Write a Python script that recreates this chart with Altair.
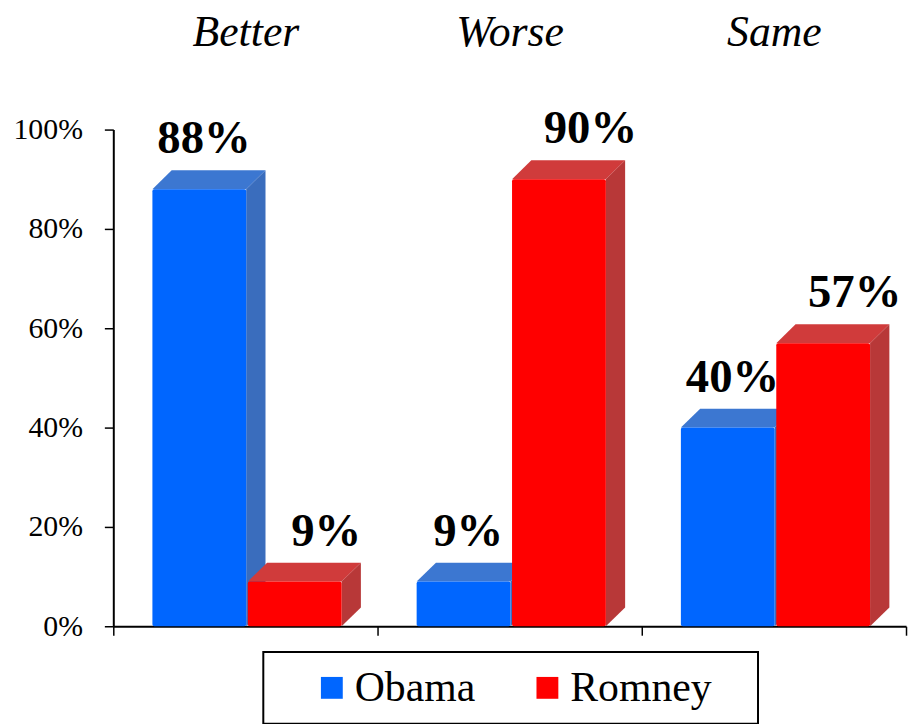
import altair as alt
import pandas as pd

# ---- data ----
categories = ["Better", "Worse", "Same"]
candidates = ["Obama", "Romney"]
obama = [88, 9, 40]
romney = [9, 90, 57]
y_ticks = [0, 20, 40, 60, 80, 100]

# ---- layout constants (in data units of the x / y scales) ----
BAR_START = 0.148   # first bar's left edge inside a category slot
BAR_PITCH = 0.361   # distance between bar left edges in a slot
BAR_W = 0.355       # front face width
DX = 0.073          # 3D depth along x
DY = 3.8            # 3D depth along y (percentage points)

front_colors = {"Obama": "#0066ff", "Romney": "#ff0000"}
top_colors = {"Obama": "#3c77d1", "Romney": "#d03b3b"}
side_colors = {"Obama": "#3a6dbd", "Romney": "#b83838"}

fronts, faces = [], []
for ci, cat in enumerate(categories):
    for k, (cand, vals) in enumerate(zip(candidates, [obama, romney])):
        v = vals[ci]
        xl = ci + BAR_START + k * BAR_PITCH
        xr = xl + BAR_W
        fronts.append(dict(cat=cat, cand=cand, v=v, y0=0, x0=xl, x1=xr,
                           xc=(xl + xr + DX) / 2, ytop=v + DY, lab=f"{v}%"))
        key = f"{cat}-{cand}-top"
        for x, y, y2 in [(xl, v, v), (xl + DX, v, v + DY), (xr, v, v + DY), (xr + DX, v + DY, v + DY)]:
            faces.append(dict(key=key, cand=cand, x=x, y=y, y2=y2, col=top_colors[cand]))
        key = f"{cat}-{cand}-side"
        for x, y, y2 in [(xr, 0, v), (xr + DX, DY, v + DY)]:
            faces.append(dict(key=key, cand=cand, x=x, y=y, y2=y2, col=side_colors[cand]))

fronts_df = pd.DataFrame(fronts)
faces_df = pd.DataFrame(faces)
titles_df = pd.DataFrame({"cat": categories, "xm": [i + 0.5 for i in range(len(categories))]})

FONT = "'Liberation Serif', 'Times New Roman', serif"

xscale = alt.Scale(domain=[0, 3], nice=False, zero=False)
yscale = alt.Scale(domain=[0, 100], nice=False, zero=True)
xaxis = alt.Axis(values=[0, 1, 2, 3], labels=False, title=None, grid=False,
                 tickSize=9, tickWidth=1.5, tickColor="black",
                 domainColor="black", domainWidth=2)
yaxis = alt.Axis(values=y_ticks, labelExpr="datum.value + '%'", title=None, grid=False,
                 tickSize=9, tickWidth=1.5, tickColor="black",
                 domainColor="black", domainWidth=2,
                 labelFont=FONT, labelFontSize=30, labelColor="black", labelPadding=22)
cat_expr = "[" + ",".join(f"'{c}'" for c in categories) + "][floor(datum.value)]"
top_axis = alt.Axis(orient="top", values=list(titles_df["xm"]), labelExpr=cat_expr,
                    title=None, grid=False, domain=False, ticks=False, tickSize=0,
                    labelPadding=85, labelBaseline="alphabetic", labelAlign="center",
                    labelFont=FONT, labelFontSize=44, labelFontStyle="italic",
                    labelColor="black", labelOverlap=False)


def X(field, axis=None):
    return alt.X(field, type="quantitative", scale=xscale, axis=axis)


def Y(field):
    return alt.Y(field, type="quantitative", scale=yscale, axis=yaxis, stack=None)


def face_layer(cand):
    return alt.Chart(faces_df).transform_filter(alt.datum.cand == cand).mark_area(
        orient="vertical", interpolate="linear"
    ).encode(
        x=X("x"), y=Y("y"), y2="y2",
        detail="key:N",
        color=alt.Color("col:N", scale=None),
    )


legend = alt.Legend(
    title=".", titleOrient="right", titleOpacity=0, titleFontSize=8, titlePadding=29,
    orient="none", legendX=151, legendY=526, direction="horizontal",
    padding=15, strokeColor="black", symbolType="square", symbolSize=484,
    symbolOffset=33, labelOffset=2, labelFont=FONT, labelFontSize=42,
    labelColor="black", labelLimit=400, columnPadding=18, symbolStrokeWidth=0,
)

front_layer = alt.Chart(fronts_df).mark_bar(cornerRadius=2).encode(
    x=X("x0", xaxis), x2="x1", y=Y("v"), y2="y0",
    color=alt.Color("cand:N", scale=alt.Scale(domain=candidates,
                                              range=[front_colors[c] for c in candidates]),
                    legend=legend),
)


def label_layer(cand, dx):
    return alt.Chart(fronts_df).transform_filter(alt.datum.cand == cand).mark_text(
        font=FONT, fontSize=47, fontWeight="bold", color="black",
        baseline="alphabetic", align="center", dy=-17, dx=dx,
    ).encode(x=X("xc"), y=Y("ytop"), text="lab:N")


# category headings: labels of a second x axis placed on top
title_layer = alt.Chart(titles_df).mark_point(opacity=0).encode(
    x=X("xm", top_axis), y=alt.value(0),
)

chart = alt.layer(
    face_layer("Obama"), face_layer("Romney"), front_layer,
    label_layer("Obama", -5), label_layer("Romney", 22), title_layer,
).resolve_axis(x="independent").properties(
    width=798, height=500,
    padding={"left": 106, "top": 120, "right": 3, "bottom": 96},
    autosize=alt.AutoSizeParams(type="none"),
).configure_view(stroke=None).configure_legend(strokeWidth=2)

chart.save("out.html", embed_options={"renderer": "svg", "actions": False})
